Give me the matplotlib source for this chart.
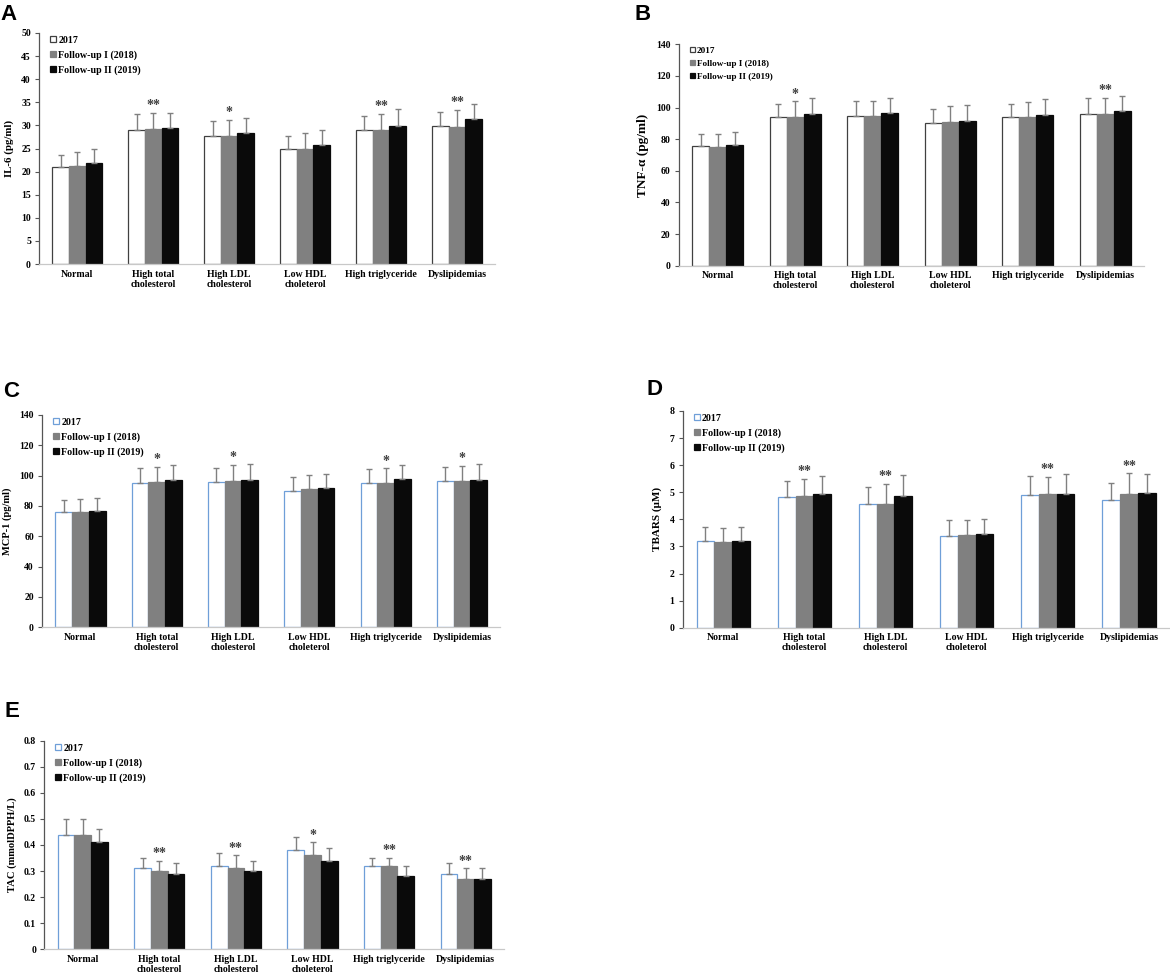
import numpy as np
import matplotlib.pyplot as plt
from matplotlib.ticker import FuncFormatter, MultipleLocator

categories = ["Normal", "High total\ncholesterol", "High LDL\ncholesterol",
              "Low HDL\ncholeterol", "High triglyceride", "Dyslipidemias"]
series = ["2017", "Follow-up I (2018)", "Follow-up II (2019)"]

# A: IL-6 (pg/ml)
il6_2017 = [21.0, 29.0, 27.6, 24.9, 29.1, 29.8]
il6_2018 = [21.2, 29.2, 27.6, 24.9, 29.0, 29.6]
il6_2019 = [21.9, 29.5, 28.3, 25.7, 29.9, 31.3]
il6_err_2017 = [2.55, 3.4, 3.3, 2.85, 2.9, 3.2]
il6_err_2018 = [3.1, 3.55, 3.6, 3.4, 3.5, 3.8]
il6_err_2019 = [3.0, 3.1, 3.4, 3.4, 3.6, 3.4]
il6_sig = ["", "**", "*", "", "**", "**"]

# B: TNF-a (pg/ml)
tnf_2017 = [75.7, 94.0, 94.7, 90.2, 93.8, 96.1]
tnf_2018 = [75.3, 94.2, 94.7, 91.1, 94.2, 96.1]
tnf_2019 = [76.3, 96.1, 96.4, 91.7, 95.5, 97.8]
tnf_err_2017 = [7.8, 8.5, 9.2, 9.1, 8.5, 9.7]
tnf_err_2018 = [8.2, 9.7, 9.2, 9.9, 9.1, 10.2]
tnf_err_2019 = [8.0, 9.7, 9.7, 9.7, 10.1, 9.7]
tnf_sig = ["", "*", "", "", "", "**"]

# C: MCP-1 (pg/ml)
mcp_2017 = [76.3, 95.2, 95.6, 90.1, 95.2, 96.3]
mcp_2018 = [76.3, 96.0, 96.7, 91.0, 95.2, 96.3]
mcp_2019 = [76.7, 97.1, 97.4, 91.9, 97.6, 97.1]
mcp_err_2017 = [7.9, 10.1, 9.2, 9.0, 9.4, 9.6]
mcp_err_2018 = [8.5, 9.7, 10.3, 9.7, 9.6, 10.3]
mcp_err_2019 = [8.4, 9.7, 10.1, 9.4, 9.4, 10.4]
mcp_sig = ["", "*", "*", "", "*", "*"]

# D: TBARS (uM)
tbars_2017 = [3.21, 4.83, 4.56, 3.40, 4.90, 4.71]
tbars_2018 = [3.18, 4.87, 4.56, 3.42, 4.93, 4.94]
tbars_2019 = [3.21, 4.94, 4.88, 3.46, 4.94, 4.98]
tbars_err_2017 = [0.49, 0.60, 0.63, 0.56, 0.71, 0.63]
tbars_err_2018 = [0.51, 0.62, 0.75, 0.56, 0.64, 0.76]
tbars_err_2019 = [0.51, 0.66, 0.74, 0.54, 0.72, 0.68]
tbars_sig = ["", "**", "**", "", "**", "**"]

# E: TAC (mmolDPPH/L)
tac_2017 = [0.44, 0.31, 0.32, 0.38, 0.32, 0.29]
tac_2018 = [0.44, 0.30, 0.31, 0.36, 0.32, 0.27]
tac_2019 = [0.41, 0.29, 0.30, 0.34, 0.28, 0.27]
tac_err_2017 = [0.06, 0.04, 0.05, 0.05, 0.03, 0.04]
tac_err_2018 = [0.06, 0.04, 0.05, 0.05, 0.03, 0.04]
tac_err_2019 = [0.05, 0.04, 0.04, 0.05, 0.04, 0.04]
tac_sig = ["", "**", "**", "*", "**", "**"]

SERIF = "Liberation Serif"
GRAY = "#808080"
BLACK = "#0a0a0a"

W, H = 1170, 977
fig = plt.figure(figsize=(W / 100, H / 100), dpi=100)


def rect(left, right, top, bottom):
    # pixel box -> figure fraction
    return [left / W, 1 - bottom / H, (right - left) / W, (bottom - top) / H]


def panel(box, vals, errs, sig, ylabel, ymax, step, white_edge,
          ylab_size=7.8, leg_size=7.2):
    ax = fig.add_axes(box)
    x = np.arange(len(categories))
    w = 0.219
    faces = ["white", GRAY, BLACK]
    edges = [white_edge, GRAY, BLACK]
    for i in range(3):
        ax.bar(x + (i - 1) * w, vals[i], w, color=faces[i], edgecolor=edges[i],
               linewidth=0.9, label=series[i],
               yerr=[np.zeros(len(x)), errs[i]],
               error_kw=dict(ecolor=GRAY, elinewidth=1.0, capsize=2.2, capthick=1.0))
    for j, s in enumerate(sig):
        if s:
            ax.annotate(s, (x[j], vals[1][j] + errs[1][j]), xytext=(0, 0.5),
                        textcoords="offset points", ha="center", va="bottom",
                        fontsize=10, color="#404040", family=SERIF, fontweight="bold")
    ax.set_xlim(-0.5, len(categories) - 0.5)
    ax.set_ylim(0, ymax)
    ax.yaxis.set_major_locator(MultipleLocator(step))
    ax.yaxis.set_major_formatter(FuncFormatter(lambda v, p: "%g" % round(v, 3)))
    ax.set_xticks(x)
    ax.set_xticklabels(categories, family=SERIF, fontweight="bold", fontsize=7.1,
                       linespacing=1.15)
    for t in ax.get_yticklabels():
        t.set_family(SERIF)
        t.set_fontweight("bold")
    ax.tick_params(axis="x", length=0, pad=4)
    ax.tick_params(axis="y", direction="out", length=3, width=0.8, color="#555555",
                   labelsize=7, pad=3)
    ax.set_ylabel(ylabel, family=SERIF, fontweight="bold", fontsize=ylab_size,
                  labelpad=5)
    for side in ["top", "right"]:
        ax.spines[side].set_visible(False)
    ax.spines["left"].set_color("#555555")
    ax.spines["left"].set_linewidth(0.9)
    ax.spines["bottom"].set_color("#c8c8c8")
    ax.spines["bottom"].set_linewidth(0.9)
    ax.legend(loc="upper left", bbox_to_anchor=(0.015, 1.005), frameon=False,
              handlelength=0.55, handleheight=0.55, handletextpad=0.25,
              labelspacing=0.55, borderaxespad=0,
              prop=dict(family=SERIF, weight="bold", size=leg_size))
    return ax


panel(rect(39.3, 495, 33, 264),
      [il6_2017, il6_2018, il6_2019], [il6_err_2017, il6_err_2018, il6_err_2019],
      il6_sig, "IL-6 (pg/ml)", 50, 5, "#404040")
panel(rect(679, 1144, 44.3, 265.7),
      [tnf_2017, tnf_2018, tnf_2019], [tnf_err_2017, tnf_err_2018, tnf_err_2019],
      tnf_sig, "TNF-α (pg/ml)", 140, 20, "#404040", ylab_size=9.5, leg_size=6.6)
panel(rect(42.3, 500, 415, 627.3),
      [mcp_2017, mcp_2018, mcp_2019], [mcp_err_2017, mcp_err_2018, mcp_err_2019],
      mcp_sig, "MCP-1 (pg/ml)", 140, 20, "#6f9fd8", ylab_size=7.6)
panel(rect(682.7, 1169.5, 411, 627.7),
      [tbars_2017, tbars_2018, tbars_2019],
      [tbars_err_2017, tbars_err_2018, tbars_err_2019],
      tbars_sig, "TBARS (μM)", 8, 1, "#6f9fd8", ylab_size=8)
panel(rect(44.4, 504, 740.7, 949.3),
      [tac_2017, tac_2018, tac_2019], [tac_err_2017, tac_err_2018, tac_err_2019],
      tac_sig, "TAC (mmolDPPH/L)", 0.8, 0.1, "#6f9fd8", ylab_size=7.6)

for letter, px, py in [("A", 0, 4), ("B", 635, 4), ("C", 3, 381),
                       ("D", 646, 379), ("E", 4, 701)]:
    fig.text(px / W, 1 - py / H, letter, ha="left", va="top", fontsize=16,
             fontweight="bold", family="Liberation Sans")

fig.savefig("out.png", dpi=100)
